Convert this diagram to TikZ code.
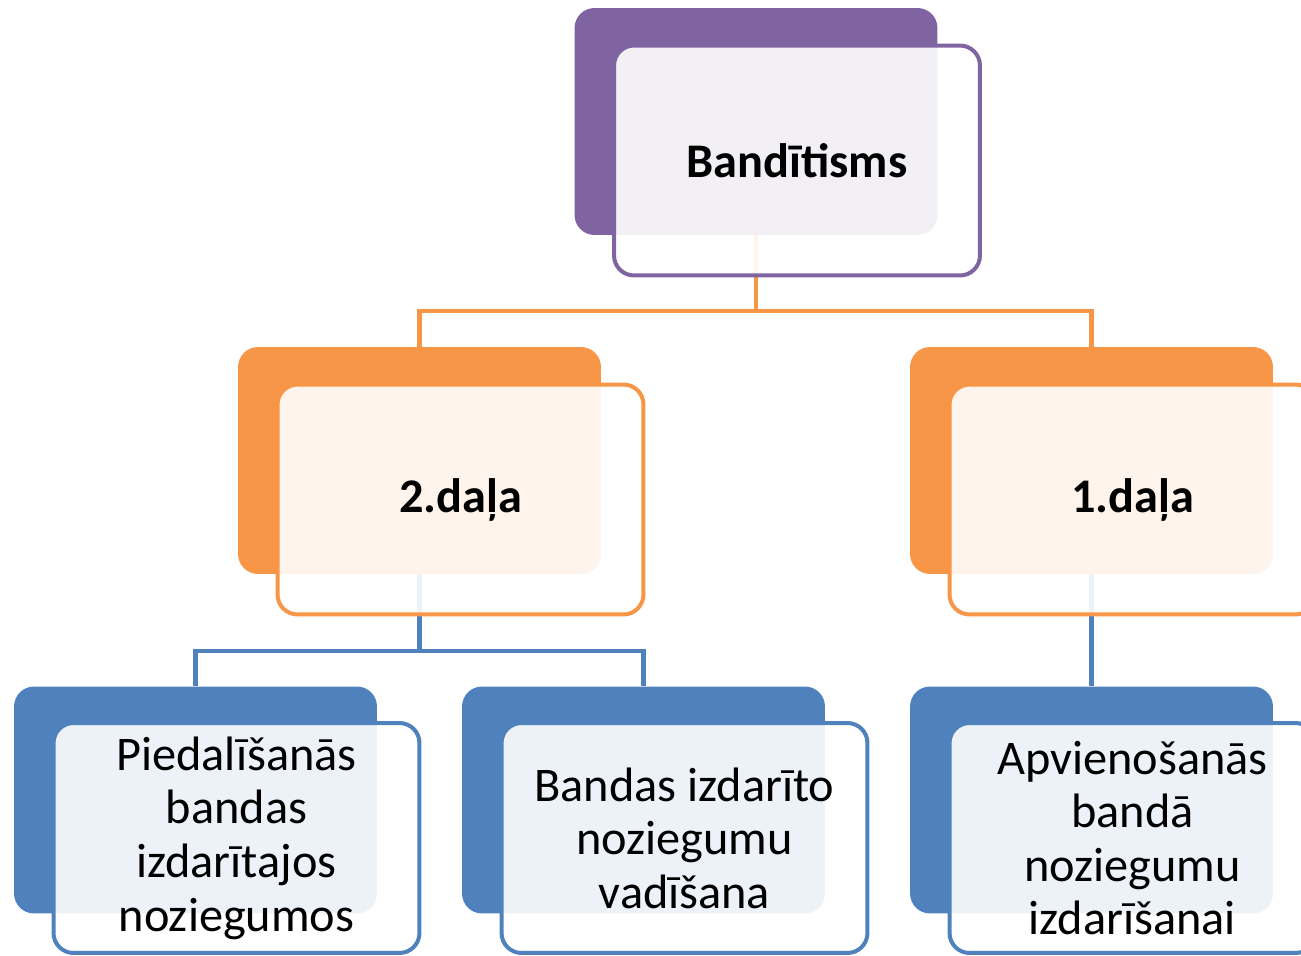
\documentclass[tikz,border=0pt]{standalone}
\usepackage{fontspec}
\setmainfont{Carlito}
\usetikzlibrary{positioning}
\definecolor{HeadPurple}{RGB}{128,100,162}
\definecolor{PartOrange}{RGB}{247,150,70}
\definecolor{ItemBlue}{RGB}{79,129,189}
\tikzset{
  backbox/.style={fill=#1,rounded corners=0.4cm,inner sep=0pt,
    minimum width=7.26cm,minimum height=4.54cm},
  frontbox/.style={draw=#1,line width=0.08cm,fill=white,fill opacity=0.9,
    text opacity=1,rounded corners=0.4cm,inner sep=0pt,align=center,
    minimum width=7.32cm,minimum height=4.6cm,
    font=\fontsize{27.5}{30.5}\selectfont},
  link/.style={line width=0.09cm,#1}
}

\begin{document}
\begin{tikzpicture}[x=0.02cm,y=-0.02cm]
  \useasboundingbox (0,0) rectangle (1301,956);
  \clip (0,0) rectangle (1301,956);
  % back plates
  \node[backbox=HeadPurple] (topB) at (756,121.5) {};
  \node[backbox=PartOrange] (midL) at (419.5,460.5) {};
  \node[backbox=PartOrange] (midR) at (1091.5,460.5) {};
  \node[backbox=ItemBlue] (botL) at (195.5,800) {};
  \node[backbox=ItemBlue] (botM) at (643.5,800) {};
  \node[backbox=ItemBlue] (botR) at (1091.5,800) {};
  % connectors
  \coordinate (busA) at (0,311);
  \coordinate (busB) at (0,651);
  \draw[link=PartOrange] (topB.south) -- (topB.south |- busA);
  \draw[link=PartOrange] (midL.north) |- (midR.north |- busA) -- (midR.north);
  \draw[link=ItemBlue] (midL.south) -- (midL.south |- busB);
  \draw[link=ItemBlue] (botL.north) |- (botM.north |- busB) -- (botM.north);
  \draw[link=ItemBlue] (midR.south) -- (botR.north);
  % front cards
  \node[frontbox=HeadPurple] (top) at ([shift={(41,39)}]topB.center)
    {\textbf{Bandītisms}};
  \node[frontbox=PartOrange] (partTwo) at ([shift={(41,39)}]midL.center)
    {\textbf{2.daļa}};
  \node[frontbox=PartOrange] (partOne) at ([shift={(41,39)}]midR.center)
    {\textbf{1.daļa}};
  \node[frontbox=ItemBlue] (itemA) at ([shift={(41,38)}]botL.center)
    {Piedalīšanās\\bandas\\izdarītajos\\noziegumos};
  \node[frontbox=ItemBlue] (itemB) at ([shift={(41,38)}]botM.center)
    {Bandas izdarīto\\noziegumu\\vadīšana};
  \node[frontbox=ItemBlue] (itemC) at ([shift={(41,38)}]botR.center)
    {Apvienošanās\\bandā\\noziegumu\\izdarīšanai};
\end{tikzpicture}
\end{document}
